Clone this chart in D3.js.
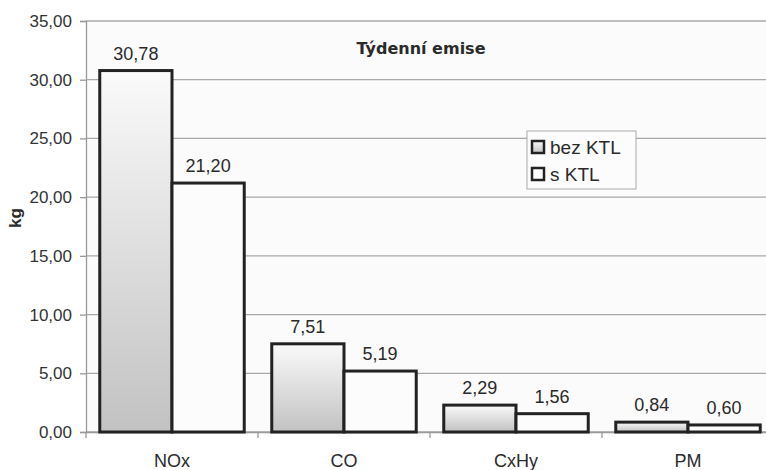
<!DOCTYPE html>
<html>
<head>
<meta charset="utf-8">
<script src="https://cdn.jsdelivr.net/npm/d3@7"></script>
<style>
  html, body { margin: 0; padding: 0; background: #ffffff; }
  svg { display: block; }
  text { font-family: "Liberation Sans", Arial, sans-serif; fill: #2a2a2a; }
</style>
</head>
<body>
<svg id="chart" width="766" height="470"></svg>
<script>
// Weekly emissions per pollutant, with and without the catalytic converter
const categories = ["NOx", "CO", "CxHy", "PM"];
const seriesNames = ["bez KTL", "s KTL"];
const bezKTL = [30.78, 7.51, 2.29, 0.84];
const sKTL = [21.20, 5.19, 1.56, 0.60];
const yTicks = [0, 5, 10, 15, 20, 25, 30, 35];
const chartTitle = "Týdenní emise";
const yAxisTitle = "kg";

const fmt = v => d3.format(".2f")(v).replace(".", ",");

const svg = d3.select("#chart");
const plot = { left: 86, right: 774, top: 21, bottom: 432 };

const defs = svg.append("defs");
const grad = defs.append("linearGradient")
  .attr("id", "barGrad").attr("x1", 0).attr("y1", 0).attr("x2", 0).attr("y2", 1);
grad.append("stop").attr("offset", "0%").attr("stop-color", "#fafafa");
grad.append("stop").attr("offset", "100%").attr("stop-color", "#c2c2c2");

const x0 = d3.scaleBand().domain(categories).range([plot.left, plot.right]).paddingInner(0).paddingOuter(0);
const groupPad = 0.08;
const x1 = d3.scaleBand().domain(seriesNames)
  .range([x0.bandwidth() * groupPad, x0.bandwidth() * (1 - groupPad)]);
const y = d3.scaleLinear().domain([0, 35]).range([plot.bottom, plot.top]);

// plot background
svg.append("rect")
  .attr("x", plot.left).attr("y", plot.top)
  .attr("width", plot.right - plot.left).attr("height", plot.bottom - plot.top)
  .attr("fill", "#fbfbfb");

// horizontal gridlines
svg.append("g").selectAll("line").data(yTicks).join("line")
  .attr("x1", plot.left).attr("x2", plot.right)
  .attr("y1", d => y(d)).attr("y2", d => y(d))
  .attr("stroke", "#a8a8a8").attr("stroke-width", 1.3);

// y axis
const yAxis = d3.axisLeft(y).tickValues(yTicks).tickFormat(fmt).tickSize(6).tickPadding(8);
const gy = svg.append("g").attr("transform", `translate(${plot.left},0)`).call(yAxis);
gy.select(".domain").attr("stroke", "#999").attr("stroke-width", 1.3);
gy.selectAll(".tick line").attr("stroke", "#999").attr("stroke-width", 1.3);
gy.selectAll(".tick text").style("font-size", "17px").style("fill", "#333")
  .style("font-family", "'Liberation Sans', Arial, sans-serif");

// x axis
const xAxis = d3.axisBottom(x0).tickSize(0).tickPadding(22);
const gx = svg.append("g").attr("transform", `translate(0,${plot.bottom})`).call(xAxis);
gx.select(".domain").attr("stroke", "#999").attr("stroke-width", 1.3);
gx.selectAll(".tick text").style("font-size", "18px").style("fill", "#2a2a2a")
  .style("font-family", "'Liberation Sans', Arial, sans-serif");
// category separator ticks
svg.append("g").selectAll("line").data(categories).join("line")
  .attr("x1", d => x0(d)).attr("x2", d => x0(d))
  .attr("y1", plot.bottom).attr("y2", plot.bottom + 6)
  .attr("stroke", "#999").attr("stroke-width", 1.3);

// bars
const rows = categories.map((c, i) => ({ cat: c, vals: [bezKTL[i], sKTL[i]] }));
const groups = svg.append("g").selectAll("g").data(rows).join("g")
  .attr("transform", d => `translate(${x0(d.cat)},0)`);
groups.selectAll("rect").data(d => d.vals.map((v, j) => ({ name: seriesNames[j], v })))
  .join("rect")
  .attr("x", d => x1(d.name))
  .attr("y", d => y(d.v))
  .attr("width", x1.bandwidth())
  .attr("height", d => y(0) - y(d.v))
  .attr("fill", d => d.name === "bez KTL" ? "url(#barGrad)" : "#fcfcfc")
  .attr("stroke", "#222").attr("stroke-width", 3);

groups.selectAll("text.val").data(d => d.vals.map((v, j) => ({ name: seriesNames[j], v })))
  .join("text").attr("class", "val")
  .attr("x", d => x1(d.name) + x1.bandwidth() / 2)
  .attr("y", d => y(d.v) - 11)
  .attr("text-anchor", "middle")
  .style("font-size", "18px")
  .text(d => fmt(d.v));

// title
svg.append("text")
  .attr("x", 421).attr("y", 54)
  .attr("text-anchor", "middle")
  .style("font-family", "'DejaVu Sans', sans-serif")
  .style("font-weight", "bold").style("font-size", "16px")
  .text(chartTitle);

// y axis title
svg.append("text")
  .attr("transform", "translate(21,218) rotate(-90)")
  .attr("text-anchor", "middle")
  .style("font-weight", "bold").style("font-size", "17px")
  .text(yAxisTitle);

// legend
const lg = svg.append("g").attr("transform", "translate(527,131)");
lg.append("rect").attr("width", 109).attr("height", 58)
  .attr("fill", "#fcfcfc").attr("stroke", "#aaa").attr("stroke-width", 1);
seriesNames.forEach((s, i) => {
  const yy = 16 + i * 27;
  lg.append("rect").attr("x", 5).attr("y", yy - 6).attr("width", 12).attr("height", 12)
    .attr("fill", i === 0 ? "url(#barGrad)" : "#fcfcfc")
    .attr("stroke", "#222").attr("stroke-width", 2.5);
  lg.append("text").attr("x", 23).attr("y", yy + 7)
    .style("font-size", "19px").text(s);
});
</script>
</body>
</html>
